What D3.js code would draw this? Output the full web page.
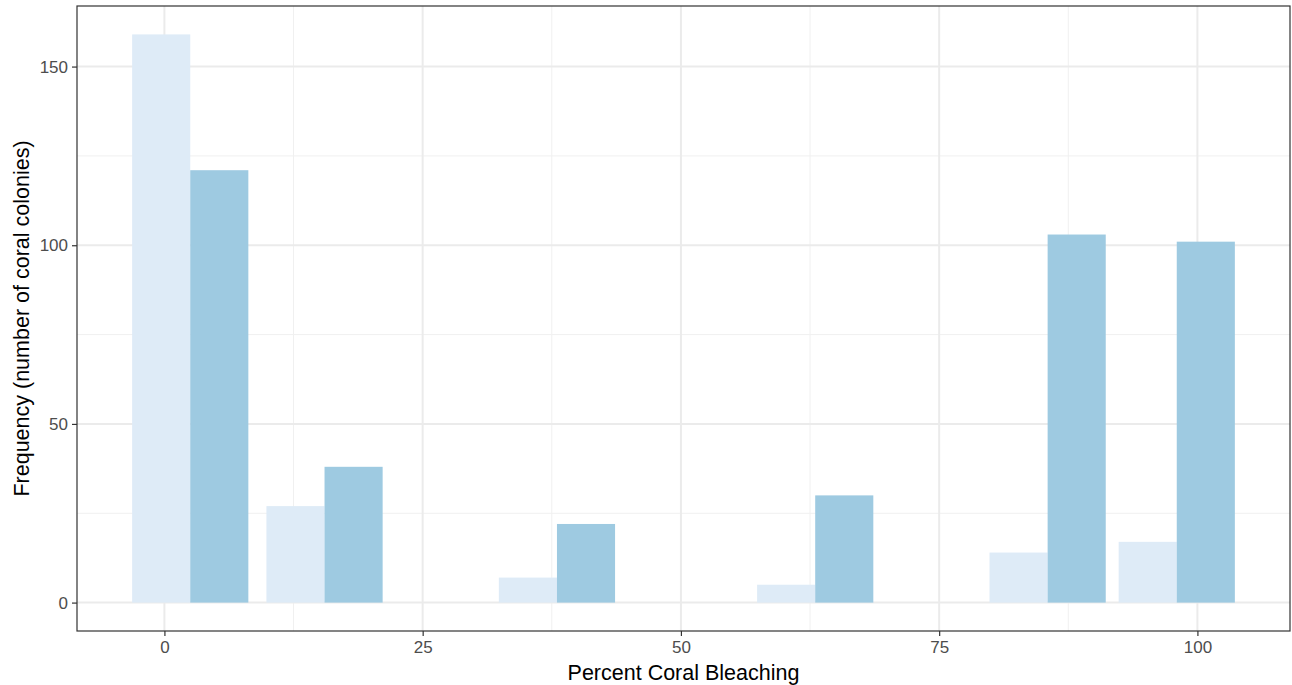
<!DOCTYPE html>
<html>
<head>
<meta charset="utf-8">
<script src="https://cdn.jsdelivr.net/npm/d3@7"></script>
<style>
  html, body { margin: 0; padding: 0; background: #fff; }
  svg { display: block; font-family: "Liberation Sans", Arial, sans-serif; }
</style>
</head>
<body>
<svg id="chart" width="1292" height="685"></svg>
<script>
// Data
const categories = [2.5, 15.5, 38, 63, 85.5, 98];   // bin midpoints (% bleaching)
const seriesNames = ["A", "B"];
const seriesA = [159, 27, 7, 5, 14, 17];   // light bars
const seriesB = [121, 38, 22, 30, 103, 101]; // dark bars
const xTicks = [0, 25, 50, 75, 100];
const yTicks = [0, 50, 100, 150];
const xMinor = [12.5, 37.5, 62.5, 87.5];
const yMinor = [25, 75, 125];
const colors = ["#DEEBF7", "#9ECAE1"];

const svg = d3.select("#chart");
const panel = { left: 77, right: 1290, top: 6, bottom: 631 };

// Dodge geometry: width 0.9 * resolution
const res = d3.min(d3.pairs(categories), p => p[1] - p[0]);
const groupW = 0.9 * res;
const dataMin = d3.min(categories) - groupW / 2;
const dataMax = d3.max(categories) + groupW / 2;
const xPad = (dataMax - dataMin) * 0.05;
const x = d3.scaleLinear().domain([dataMin - xPad, dataMax + xPad]).range([panel.left, panel.right]);

const yMaxData = d3.max(seriesA.concat(seriesB));
const yPad = yMaxData * 0.05;
const y = d3.scaleLinear().domain([-yPad, yMaxData + yPad]).range([panel.bottom, panel.top]);

const g = svg.append("g");

// Panel background
g.append("rect").attr("x", panel.left).attr("y", panel.top)
  .attr("width", panel.right - panel.left).attr("height", panel.bottom - panel.top)
  .attr("fill", "#fff");

// Minor grid
g.selectAll(".xminor").data(xMinor).join("line")
  .attr("x1", d => x(d)).attr("x2", d => x(d)).attr("y1", panel.top).attr("y2", panel.bottom)
  .attr("stroke", "#F0F0F0").attr("stroke-width", 1);
g.selectAll(".yminor").data(yMinor).join("line")
  .attr("y1", d => y(d)).attr("y2", d => y(d)).attr("x1", panel.left).attr("x2", panel.right)
  .attr("stroke", "#F0F0F0").attr("stroke-width", 1);
// Major grid
g.selectAll(".xmajor").data(xTicks).join("line")
  .attr("x1", d => x(d)).attr("x2", d => x(d)).attr("y1", panel.top).attr("y2", panel.bottom)
  .attr("stroke", "#EBEBEB").attr("stroke-width", 2);
g.selectAll(".ymajor").data(yTicks).join("line")
  .attr("y1", d => y(d)).attr("y2", d => y(d)).attr("x1", panel.left).attr("x2", panel.right)
  .attr("stroke", "#EBEBEB").attr("stroke-width", 2);

// Bars
const sub = d3.scaleBand().domain(seriesNames).range([-groupW / 2, groupW / 2]).padding(0);
const allSeries = [seriesA, seriesB];
allSeries.forEach((vals, si) => {
  g.selectAll(".bar" + si).data(categories).join("rect")
    .attr("x", (d) => x(d + sub(seriesNames[si])))
    .attr("width", (d) => x(d + sub(seriesNames[si]) + sub.bandwidth()) - x(d + sub(seriesNames[si])))
    .attr("y", (d, i) => y(vals[i]))
    .attr("height", (d, i) => y(0) - y(vals[i]))
    .attr("fill", colors[si]);
});

// Panel border
g.append("rect").attr("x", panel.left).attr("y", panel.top)
  .attr("width", panel.right - panel.left).attr("height", panel.bottom - panel.top)
  .attr("fill", "none").attr("stroke", "#333333").attr("stroke-width", 1.2);

// Axes
const xAxis = d3.axisBottom(x).tickValues(xTicks).tickSize(5).tickPadding(5).tickFormat(d3.format("d"));
const gx = svg.append("g").attr("transform", `translate(0,${panel.bottom})`).call(xAxis);
gx.select(".domain").remove();
gx.selectAll(".tick line").attr("stroke", "#333333").attr("stroke-width", 1.2);
gx.selectAll(".tick text").attr("fill", "#4D4D4D").attr("font-size", 17)
  .attr("font-family", "Liberation Sans, Arial, sans-serif");

const yAxis = d3.axisLeft(y).tickValues(yTicks).tickSize(5).tickPadding(4).tickFormat(d3.format("d"));
const gy = svg.append("g").attr("transform", `translate(${panel.left},0)`).call(yAxis);
gy.select(".domain").remove();
gy.selectAll(".tick line").attr("stroke", "#333333").attr("stroke-width", 1.2);
gy.selectAll(".tick text").attr("fill", "#4D4D4D").attr("font-size", 17)
  .attr("font-family", "Liberation Sans, Arial, sans-serif");

// Titles
svg.append("text").attr("x", (panel.left + panel.right) / 2).attr("y", 680)
  .attr("text-anchor", "middle").attr("font-size", 21.5).attr("fill", "#000")
  .text("Percent Coral Bleaching");
svg.append("text").attr("transform", `translate(29,${(panel.top + panel.bottom) / 2}) rotate(-90)`)
  .attr("text-anchor", "middle").attr("font-size", 21.5).attr("fill", "#000")
  .text("Frequency (number of coral colonies)");
</script>
</body>
</html>
